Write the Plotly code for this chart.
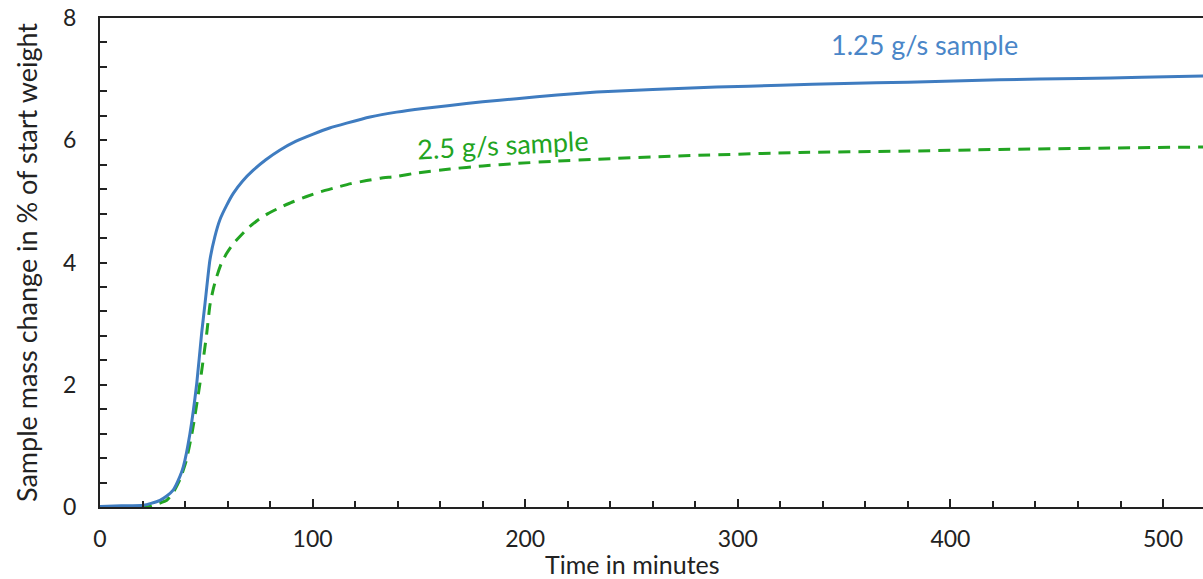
import plotly.graph_objects as go

# Time in minutes and mass change (%) for each sample
t_125 = [0, 10, 20.4, 24, 28.2, 31.4, 34.5, 37.6, 39.2, 42.3, 45.5, 47.8, 49.4, 51.7, 54, 56.4,
         59.5, 62.7, 67, 72.1, 78, 84.7, 92, 100.3, 108, 116, 127, 139.5, 152, 164.6, 180, 196,
         215, 233.6, 260, 290, 320, 350, 380, 423, 461, 490, 519]
v_125 = [0.01, 0.02, 0.03, 0.06, 0.11, 0.18, 0.28, 0.5, 0.66, 1.2, 2.02, 2.84, 3.33, 4.04, 4.42, 4.7,
         4.93, 5.13, 5.33, 5.51, 5.68, 5.84, 5.98, 6.1, 6.2, 6.28, 6.38, 6.46, 6.52, 6.57, 6.63, 6.68,
         6.74, 6.79, 6.83, 6.87, 6.9, 6.93, 6.95, 6.99, 7.01, 7.03, 7.05]

t_25 = [0, 10, 20, 23.5, 27, 31.4, 34.5, 37.6, 40.5, 43.5, 47, 50.2, 51.7, 53.3, 54.9, 57, 59.6,
        62.5, 65.9, 69.5, 73.7, 79, 84.7, 90.5, 97.2, 104, 111.3, 118, 125.4, 132, 139.5, 150,
        164.6, 180, 196, 215, 233.6, 270, 329, 376, 423, 470, 519]
v_25 = [0.0, 0.0, 0.0, 0.01, 0.05, 0.11, 0.24, 0.45, 0.75, 1.25, 2.02, 2.84, 3.3, 3.57, 3.77, 3.98, 4.15,
        4.3, 4.43, 4.56, 4.68, 4.8, 4.9, 4.99, 5.08, 5.16, 5.23, 5.29, 5.34, 5.38, 5.41, 5.47,
        5.53, 5.58, 5.62, 5.66, 5.69, 5.74, 5.8, 5.82, 5.85, 5.87, 5.89]

x_ticks = [0, 100, 200, 300, 400, 500]
y_ticks = [0, 2, 4, 6, 8]

label_125 = "1.25 g/s sample"
label_25 = "2.5 g/s sample"
x_title = "Time in minutes"
y_title = "Sample mass change in % of start weight"

FONT = "Lato"

fig = go.Figure()
fig.add_trace(go.Scatter(x=t_25, y=v_25, mode="lines", line=dict(color="#22a422", width=3, dash="12px,8px", shape="spline", smoothing=0.5), name=label_25, showlegend=False))
fig.add_trace(go.Scatter(x=t_125, y=v_125, mode="lines", line=dict(color="#3f7cc0", width=3, shape="spline", smoothing=0.5), name=label_125, showlegend=False))

fig.add_annotation(x=388, y=7.56, text=label_125, showarrow=False, font=dict(family=FONT, size=27, color="#4a86c8"))
fig.add_annotation(x=189.6, y=5.93, text=label_25, showarrow=False, textangle=-3, font=dict(family=FONT, size=27, color="#22a422"))
fig.add_annotation(x=0.483, xref="paper", y=0, yref="paper", yshift=-57, yanchor="middle", text=x_title,
                   showarrow=False, font=dict(family=FONT, size=25, color="#222222"))

fig.update_layout(
    width=1203, height=579,
    margin=dict(l=100, r=0, t=18, b=72),
    paper_bgcolor="white", plot_bgcolor="white",
    font=dict(family=FONT, size=23, color="#222222"),
    xaxis=dict(range=[0, 518.8], tickvals=x_ticks, ticks="inside", ticklen=8, tickwidth=1.5, tickcolor="#222",
               showline=True, linecolor="#222", linewidth=2, mirror=True, showgrid=False, zeroline=False,
               minor=dict(dtick=20, ticks="inside", ticklen=6, tickwidth=1.5, tickcolor="#222", showgrid=False),
               ticklabelstandoff=10),
    yaxis=dict(range=[0, 8], tickvals=y_ticks, ticks="inside", ticklen=7, tickwidth=1.5, tickcolor="#222",
               showline=True, linecolor="#222", linewidth=2, showgrid=False, zeroline=False,
               minor=dict(dtick=0.4, ticks="inside", ticklen=7, tickwidth=1.5, tickcolor="#222", showgrid=False),
               title=dict(text=y_title, font=dict(size=27), standoff=18), ticklabelstandoff=17),
)

fig.write_html("out.html")
